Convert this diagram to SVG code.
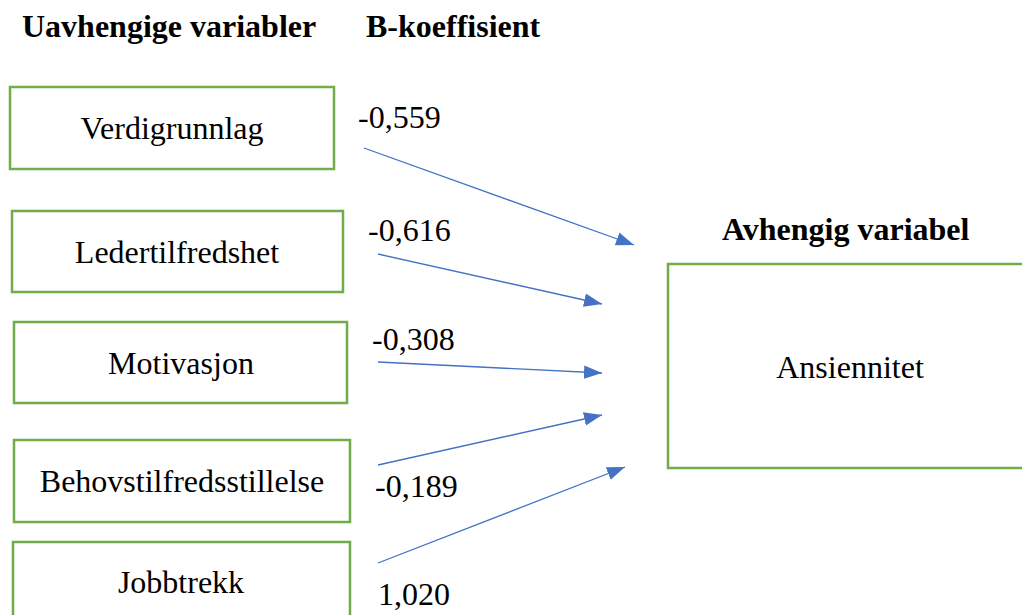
<svg xmlns="http://www.w3.org/2000/svg" width="1022" height="615" viewBox="0 0 1022 615">
<style>
.box{fill:#fff;stroke:#70AD47;stroke-width:2.5}
.c{fill:none;stroke:#4472C4;stroke-width:1.3;marker-end:url(#ah)}
</style>
<defs>
<marker id="ah" markerUnits="userSpaceOnUse" markerWidth="18" markerHeight="14" refX="16" refY="6" orient="auto" viewBox="0 0 16 12">
<path d="M0,0 L16,6 L0,12 Z" fill="#4472C4"/>
</marker>
</defs>
<rect width="1022" height="615" fill="#fff"/>
<g id="headers">
<text x="22" y="37" font-family="Liberation Serif, serif" font-size="32" font-weight="bold">Uavhengige variabler</text>
<text x="366" y="37" font-family="Liberation Serif, serif" font-size="32" font-weight="bold">B-koeffisient</text>
<text x="722" y="240" font-family="Liberation Serif, serif" font-size="32" font-weight="bold">Avhengig variabel</text>
</g>
<g id="n1"><rect class="box" x="10" y="87" width="324" height="82"/><text x="172" y="139" text-anchor="middle" font-family="Liberation Serif, serif" font-size="32">Verdigrunnlag</text></g>
<g id="n2"><rect class="box" x="12" y="211" width="331" height="81"/><text x="177" y="263" text-anchor="middle" font-family="Liberation Serif, serif" font-size="32">Ledertilfredshet</text></g>
<g id="n3"><rect class="box" x="14" y="322" width="333" height="81"/><text x="181" y="374" text-anchor="middle" font-family="Liberation Serif, serif" font-size="32">Motivasjon</text></g>
<g id="n4"><rect class="box" x="14" y="440" width="336" height="82"/><text x="182" y="492" text-anchor="middle" font-family="Liberation Serif, serif" font-size="32">Behovstilfredsstillelse</text></g>
<g id="n5"><rect class="box" x="13" y="542" width="337" height="90"/><text x="181" y="593" text-anchor="middle" font-family="Liberation Serif, serif" font-size="32">Jobbtrekk</text></g>
<g id="n6"><rect class="box" x="668" y="264" width="370" height="204"/><text x="850" y="378" text-anchor="middle" font-family="Liberation Serif, serif" font-size="32">Ansiennitet</text></g>
<g id="connectors">
<line class="c" x1="364" y1="148" x2="634" y2="245"/>
<line class="c" x1="378" y1="254" x2="602" y2="304"/>
<line class="c" x1="378" y1="362" x2="602" y2="373"/>
<line class="c" x1="378" y1="465" x2="602" y2="415"/>
<line class="c" x1="378" y1="563" x2="625" y2="467"/>
</g>
<g id="labels">
<text x="358" y="128" font-family="Liberation Serif, serif" font-size="32">-0,559</text>
<text x="368" y="241" font-family="Liberation Serif, serif" font-size="32">-0,616</text>
<text x="372" y="350" font-family="Liberation Serif, serif" font-size="32">-0,308</text>
<text x="375" y="497" font-family="Liberation Serif, serif" font-size="32">-0,189</text>
<text x="378" y="605" font-family="Liberation Serif, serif" font-size="32">1,020</text>
</g>
</svg>
